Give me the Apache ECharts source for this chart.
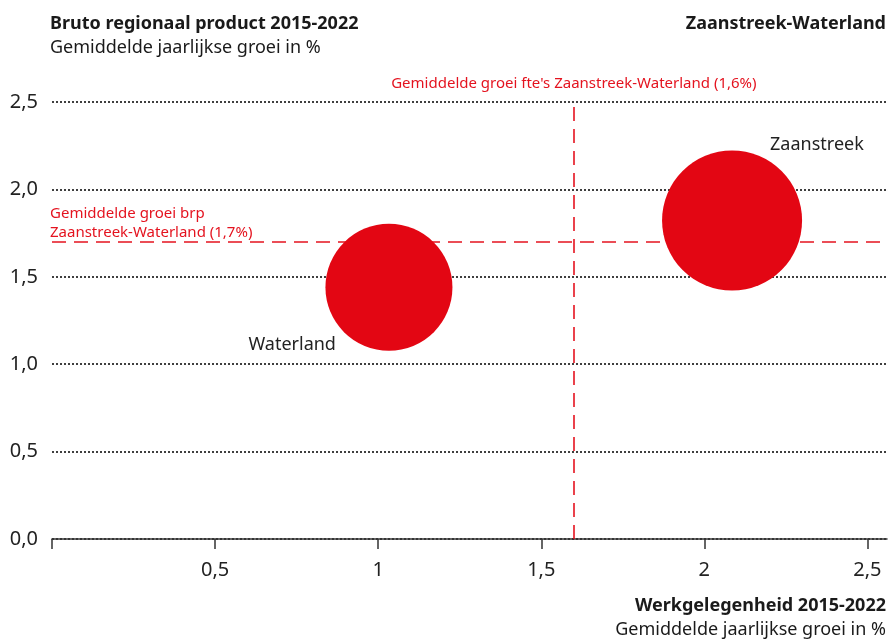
<!DOCTYPE html>
<html>
<head>
<meta charset="utf-8">
<script src="https://cdn.jsdelivr.net/npm/echarts@6/dist/echarts.min.js"></script>
<style>
  html, body { margin: 0; padding: 0; background: #fff; }
  #main { width: 890px; height: 641px; }
</style>
</head>
<body>
<div id="main"></div>
<script>
// regio's en hun groei (in %)
var regions = ['Zaanstreek', 'Waterland']
var fteGrowth = [2.085, 1.033]   // werkgelegenheid, x
var brpGrowth = [1.822, 1.44]    // bruto regionaal product, y
var bubbleSize = [140, 127]

var avgFte = 1.6
var avgBrp = 1.7

var xTicks = [0, 0.5, 1, 1.5, 2, 2.5]
var xLabels = [0.5, 1, 1.5, 2, 2.5]
var yTicks = [0, 0.5, 1, 1.5, 2, 2.5]

var RED = '#e30613'
var INK = '#1a1a1a'
var FONT = 'Noto Sans'

var main = document.getElementById('main')
var myChart = echarts.init(main)

var labelPos = {
  Zaanstreek: { align: 'left', offset: [38, -76] },
  Waterland: { align: 'right', offset: [-53, 58] }
}

var points = regions.map(function (name, i) {
  return {
    name: name,
    value: [fteGrowth[i], brpGrowth[i], bubbleSize[i]],
    label: {
      show: true,
      position: 'inside',
      formatter: name,
      align: labelPos[name].align,
      verticalAlign: 'middle',
      offset: labelPos[name].offset,
      color: '#222',
      fontSize: 18,
      fontFamily: FONT
    }
  }
})

function txt(x, y, s, bold, align) {
  return {
    type: 'text',
    x: x,
    y: y,
    style: {
      text: s,
      fill: INK,
      font: (bold ? 'bold ' : '') + '18px "' + FONT + '"',
      textAlign: align || 'left',
      textVerticalAlign: 'middle'
    }
  }
}

myChart.setOption({
  animation: false,
  textStyle: { fontFamily: FONT },
  graphic: [
    txt(50, 24, 'Bruto regionaal product 2015-2022', true),
    txt(50, 48, 'Gemiddelde jaarlijkse groei in %', false),
    txt(886, 24, 'Zaanstreek-Waterland', true, 'right'),
    txt(886, 606, 'Werkgelegenheid 2015-2022', true, 'right'),
    txt(886, 630, 'Gemiddelde jaarlijkse groei in %', false, 'right')
  ],
  grid: { left: 52, right: 3, top: 102, bottom: 102 },
  xAxis: {
    type: 'value',
    min: 0,
    max: 2.56,
    interval: 0.5,
    splitLine: { show: false },
    axisLine: { show: true, lineStyle: { color: '#333', width: 1.5 } },
    axisTick: { show: true, length: 10, customValues: xTicks, lineStyle: { color: '#333', width: 1.5 } },
    axisLabel: {
      customValues: xLabels,
      margin: 21,
      fontSize: 20,
      color: '#222',
      formatter: function (v) { return String(v).replace('.', ',') }
    }
  },
  yAxis: {
    type: 'value',
    min: 0,
    max: 2.5,
    interval: 0.5,
    axisLine: { show: false },
    axisTick: { show: false },
    splitLine: { show: true, lineStyle: { color: '#000', width: 1.5, type: [2, 2] } },
    axisLabel: {
      customValues: yTicks,
      margin: 14,
      fontSize: 20,
      color: '#222',
      padding: [4, 0, 0, 0],
      formatter: function (v) { return v.toFixed(1).replace('.', ',') }
    }
  },
  series: [{
    type: 'scatter',
    data: points,
    symbolSize: function (d) { return d[2] },
    itemStyle: { color: RED, opacity: 1 },
    z: 3,
    markLine: {
      silent: true,
      symbol: 'none',
      z: 2,
      lineStyle: { color: RED, width: 1.6, type: [14, 8], opacity: 0.95 },
      data: [
        [{ coord: [avgFte, 0] }, {
          coord: [avgFte, 2.5],
          label: {
            show: true,
            position: 'end',
            distance: 11,
            formatter: "Gemiddelde groei fte's Zaanstreek-Waterland (1,6%)",
            color: RED,
            fontSize: 15,
            fontFamily: FONT
          }
        }],
        [{ coord: [0, avgBrp] }, {
          coord: [2.56, avgBrp],
          label: {
            show: true,
            position: 'insideStartTop',
            distance: 0,
            align: 'left',
            lineHeight: 19,
            offset: [-2, 0],
            formatter: 'Gemiddelde groei brp\nZaanstreek-Waterland (1,7%)',
            color: RED,
            fontSize: 15,
            fontFamily: FONT
          }
        }]
      ]
    }
  }]
})
</script>
</body>
</html>
